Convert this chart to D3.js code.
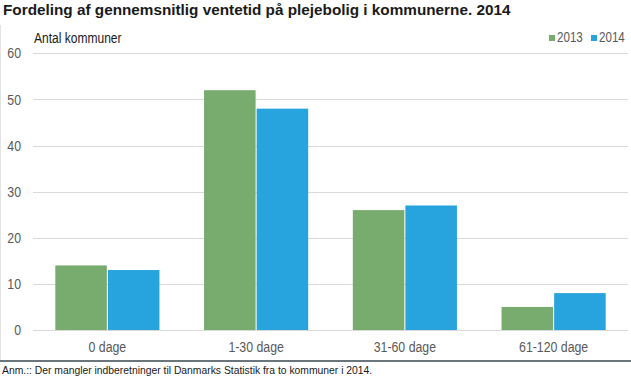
<!DOCTYPE html>
<html><head><meta charset="utf-8">
<script src="https://cdn.jsdelivr.net/npm/d3@7/dist/d3.min.js"></script>
<style>body{margin:0;background:#fff}svg{display:block}</style>
</head><body><svg id="c" width="631" height="380"></svg>
<script>
const categories = ["0 dage", "1-30 dage", "31-60 dage", "61-120 dage"];
const seriesNames = ["2013", "2014"];
const values2013 = [14, 52, 26, 5];
const values2014 = [13, 48, 27, 8];
const yTicks = [0, 10, 20, 30, 40, 50, 60];
const colors = ["#78ac6f", "#27a3dd"];

const svg = d3.select("#c");
const font = "'Liberation Sans',Arial,sans-serif";
const SX = 0.85;
const L = 33, R = 628, T = 53.3, B = 330;
const x = d3.scaleBand().domain(categories).range([L, R]).paddingInner(0.3).paddingOuter(0.15);
const xs = d3.scaleBand().domain(seriesNames).range([0, x.bandwidth()]).paddingInner(0.02);
const y = d3.scaleLinear().domain([0, 60]).range([B, T]);

function ntext(px, py, txt, size, fill, anchor, sx) {
  return svg.append("text").attr("transform", `translate(${px},${py}) scale(${sx},1)`)
    .attr("text-anchor", anchor || "start").text(txt)
    .attr("font-family", font).attr("font-size", size).attr("fill", fill);
}

// faint left edge
svg.append("line").attr("x1", 0.5).attr("x2", 0.5).attr("y1", 25).attr("y2", 360).attr("stroke", "#e3e3e3");

svg.append("text").attr("x", 3).attr("y", 15).text("Fordeling af gennemsnitlig ventetid på plejebolig i kommunerne. 2014")
  .attr("font-family", font).attr("font-weight", "bold").attr("font-size", 15.3).attr("fill", "#1a1a1a");

// grid
svg.append("g").selectAll("line").data(yTicks).join("line")
  .attr("x1", L).attr("x2", R).attr("y1", d => Math.round(y(d)) + 0.5).attr("y2", d => Math.round(y(d)) + 0.5)
  .attr("stroke", "#d9d9d9").attr("stroke-width", 1);

const yAxis = svg.append("g").attr("transform", `translate(${L},0)`)
  .call(d3.axisLeft(y).tickValues(yTicks).tickSize(0).tickPadding(12));
yAxis.select(".domain").remove();
yAxis.selectAll("text").attr("font-family", font).attr("font-size", 14.5).attr("fill", "#595959")
  .attr("x", -12 / SX).attr("transform", `scale(${SX},1)`);

const xAxis = svg.append("g").attr("transform", `translate(0,${B})`)
  .call(d3.axisBottom(x).tickSize(0).tickPadding(12));
xAxis.select(".domain").remove();
xAxis.selectAll("text").attr("font-family", font).attr("font-size", 14.5).attr("fill", "#595959")
  .attr("transform", `scale(${SX},1)`);

const rows = categories.map((c, i) => ({c, v: [values2013[i], values2014[i]]}));
const g = svg.append("g").selectAll("g").data(rows).join("g").attr("transform", d => `translate(${x(d.c)},0)`);
g.selectAll("rect").data(d => d.v.map((v, j) => ({v, s: seriesNames[j], j}))).join("rect")
  .attr("x", d => xs(d.s)).attr("width", xs.bandwidth())
  .attr("y", d => y(d.v)).attr("height", d => y(0) - y(d.v))
  .attr("fill", d => colors[d.j]);

ntext(34, 43, "Antal kommuner", 14.5, "#1a1a1a", "start", 0.83);

// legend
const lx = [549, 591];
seriesNames.forEach((s, i) => {
  svg.append("rect").attr("x", lx[i]).attr("y", 35).attr("width", 6).attr("height", 6).attr("fill", colors[i]);
  ntext(lx[i] + 8, 42, s, 14.5, "#595959", "start", 0.8);
});

svg.append("line").attr("x1", 0).attr("x2", 631).attr("y1", 361).attr("y2", 361).attr("stroke", "#6b757c").attr("stroke-width", 2);
svg.append("text").attr("x", 2).attr("y", 374).text("Anm.:: Der mangler indberetninger til Danmarks Statistik fra to kommuner i 2014.")
  .attr("font-family", font).attr("font-size", 10.35).attr("fill", "#1a1a1a");
</script></body></html>
